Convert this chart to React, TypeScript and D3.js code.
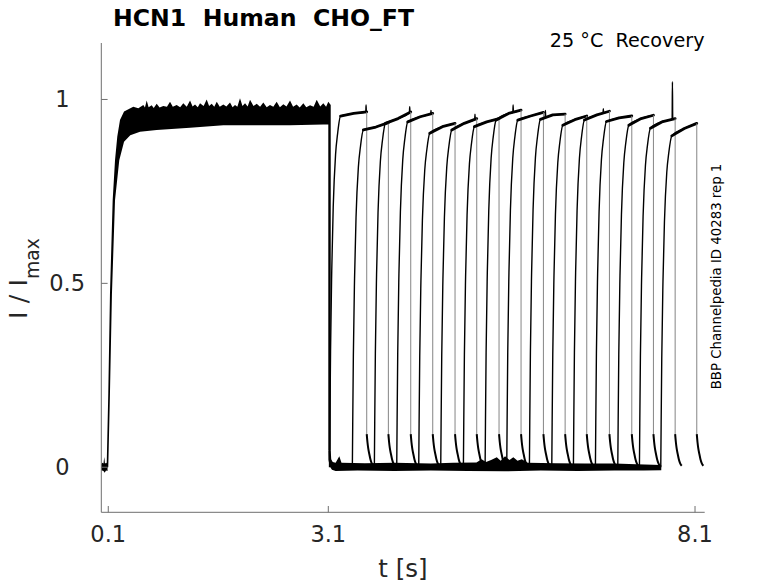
import React from 'react';
import * as d3 from 'd3';

type P = [number, number];

// ---- axis ticks ----
const xTicks = [0.1, 3.1, 8.1];
const xTickLabels = ['0.1', '3.1', '8.1'];
const yTicks = [0, 0.5, 1];
const yTickLabels = ['0', '0.5', '1'];

// ---- first (conditioning) pulse: envelope of all 16 overlapping sweeps ----
const preUpper: P[] = [[0.005, 0.008], [0.02, 0.012], [0.035, 0.01], [0.045, 0.028], [0.055, 0.01], [0.075, 0.012], [0.09, 0.008]];
const preLower: P[] = [[0.005, -0.008], [0.035, -0.01], [0.05, -0.015], [0.07, -0.009], [0.09, -0.01]];
const riseLeft: P[] = [[0.078, 0.0], [0.1, 0.2], [0.123, 0.47], [0.16, 0.726], [0.192, 0.835], [0.223, 0.899], [0.26, 0.944], [0.315, 0.967]];
const riseRight: P[] = [[0.1, 0.0], [0.123, 0.2], [0.15, 0.47], [0.192, 0.726], [0.25, 0.835], [0.315, 0.885], [0.4, 0.903]];
const bandUpper: P[] = [
  [0.441, 0.98], [0.51, 0.976], [0.578, 0.985], [0.6, 0.978], [0.624, 0.997], [0.65, 0.979], [0.692, 0.984], [0.72, 0.977],
  [0.76, 0.988], [0.8, 0.978], [0.85, 0.982], [0.9, 0.98], [0.942, 0.994], [0.98, 0.98], [1.033, 0.985], [1.08, 0.979],
  [1.123, 0.99], [1.17, 0.98], [1.215, 0.997], [1.25, 0.981], [1.283, 0.986], [1.32, 0.979], [1.351, 0.99], [1.4, 0.982],
  [1.442, 1.0], [1.475, 0.982], [1.51, 0.988], [1.545, 0.98], [1.579, 0.994], [1.62, 0.98], [1.669, 0.986], [1.71, 0.981],
  [1.76, 0.992], [1.795, 0.979], [1.828, 0.985], [1.86, 0.98], [1.896, 1.003], [1.93, 0.982], [1.965, 0.99], [2.0, 0.981],
  [2.033, 0.999], [2.08, 0.982], [2.124, 0.988], [2.17, 0.98], [2.214, 0.992], [2.26, 0.979], [2.305, 0.985], [2.35, 0.98],
  [2.396, 0.994], [2.44, 0.979], [2.487, 0.987], [2.53, 0.981], [2.578, 0.997], [2.62, 0.98], [2.669, 0.986], [2.71, 0.978],
  [2.76, 0.99], [2.8, 0.979], [2.851, 0.984], [2.9, 0.98], [2.942, 0.999], [2.99, 0.981], [3.032, 0.99], [3.07, 0.98], [3.1, 0.994],
];
const bandLower: P[] = [[0.4, 0.903], [0.533, 0.912], [0.76, 0.917], [1.215, 0.923], [1.669, 0.93], [2.124, 0.93], [2.578, 0.93], [3.032, 0.932], [3.1, 0.932]];
const dropBand: P[] = [[3.133, 0.985], [3.133, 0.045], [3.1, 0.045]];

// ---- baseline between pulses (deactivated, overlapping sweeps) ----
const baseOuter: P[] = [[3.1, 0.045], [3.102, 0.02], [3.12, 0.002], [3.15, -0.007], [3.2, -0.01]];
const baseLower: P[] = [[3.5, -0.009], [4.0, -0.01], [4.5, -0.009], [5.0, -0.01], [5.5, -0.011], [6.0, -0.009], [6.5, -0.01], [7.0, -0.009], [7.4, -0.009], [7.64, -0.008]];
const baseUpper: P[] = [
  [3.2, 0.012], [3.25, 0.03], [3.28, 0.012], [3.6, 0.011], [4.0, 0.012], [4.5, 0.01], [4.8, 0.012], [5.12, 0.013],
  [5.19, 0.022], [5.25, 0.014], [5.32, 0.02], [5.397, 0.027], [5.45, 0.018], [5.51, 0.03], [5.57, 0.02], [5.623, 0.027],
  [5.68, 0.018], [5.738, 0.022], [5.82, 0.012], [6.2, 0.011], [6.6, 0.01], [7.0, 0.01], [7.3, 0.008], [7.64, 0.006],
];
const baseInner: P[] = [[3.133, 0.045], [3.14, 0.022], [3.16, 0.014]];

// ---- recovery (test) pulses, one per sweep ----
const riseT = [3.117, 3.428, 3.728, 4.033, 4.333, 4.633, 4.942, 5.238, 5.533, 5.842, 6.147, 6.442, 6.742, 7.047, 7.342, 7.633];
const endT = [3.624, 3.919, 4.224, 4.524, 4.828, 5.124, 5.428, 5.728, 6.033, 6.329, 6.624, 6.933, 7.238, 7.533, 7.829, 8.124];
const plStart = [0.955, 0.917, 0.935, 0.939, 0.908, 0.917, 0.926, 0.944, 0.944, 0.946, 0.93, 0.944, 0.94, 0.93, 0.922, 0.901];
const plMid = [0.962, 0.925, 0.948, 0.953, 0.926, 0.935, 0.939, 0.962, 0.955, 0.958, 0.945, 0.958, 0.95, 0.948, 0.94, 0.921];
const plEnd = [0.966, 0.937, 0.966, 0.962, 0.935, 0.948, 0.948, 0.971, 0.965, 0.96, 0.955, 0.968, 0.955, 0.957, 0.948, 0.935];
// [sweep index, t, value] of visible peaks
const peaks: [number, number, number][] = [[0, 3.615, 0.985], [2, 4.21, 0.98], [3, 4.5, 0.97], [5, 5.1, 0.96], [7, 5.62, 0.985], [9, 6.06, 0.97], [11, 6.85, 0.975], [14, 7.792, 1.048]];
// activation shape: time after step (s), fraction of plateau
const riseDt = [0, 0.005, 0.0136, 0.03, 0.05, 0.082, 0.11, 0.15];
const riseFrac = [0, 0.13, 0.33, 0.56, 0.74, 0.89, 0.95, 1.0];
// deactivation tail after each test pulse: time after step (s), value
const tailDt = [0, 0.01, 0.02, 0.035, 0.05, 0.07, 0.09];
const tailV = [0.09, 0.068, 0.052, 0.036, 0.022, 0.01, 0.004];

const FONT = '"DejaVu Sans", Verdana, sans-serif';

export default function App() {
  const x = d3.scaleLinear().domain([0.005, 8.232]).range([101.3, 704.7]);
  const y = d3.scaleLinear().domain([-0.1225, 1.1535]).range([512.3, 43]);
  const poly = d3.line<P>().x(d => x(d[0])).y(d => y(d[1]));
  const smooth = d3.line<P>().x(d => x(d[0])).y(d => y(d[1])).curve(d3.curveMonotoneX);

  const prePoly = [...preUpper, ...[...preLower].reverse()];
  const mainPoly = [...riseLeft, ...bandUpper, ...dropBand, ...[...bandLower].reverse(), ...[...riseRight].reverse()];
  const basePoly = [...baseOuter, ...baseLower, ...[...baseUpper].reverse(), ...[...baseInner].reverse()];

  const sweeps = riseT.map((t0, i) => {
    const t1 = endT[i];
    const tKnee = t0 + riseDt[riseDt.length - 1];
    const pts: P[] = riseDt.map((dt, j) => [t0 + dt, riseFrac[j] * plStart[i]] as P);
    const tMid = (tKnee + t1) / 2;
    const plat: P[] = [[tKnee, plStart[i]], [tMid, plMid[i]], [t1, plEnd[i]]];
    const base = d3.scaleLinear().domain(plat.map(p => p[0])).range(plat.map(p => p[1]));
    let full: P[] = [...pts.slice(0, -1), ...plat];
    peaks.filter(p => p[0] === i).forEach(([, tp, vp]) => {
      const a = tp - 0.004, b = Math.min(tp + 0.004, t1);
      full.push([a, base(a)], [tp, vp], [b, base(b)]);
    });
    full = full.sort((p, q) => p[0] - q[0]);
    const tail: P[] = tailDt.map((dt, j) => [t1 + dt, tailV[j]] as P);
    return { full, plat, tail, t1, vEnd: plEnd[i] };
  });

  const axisColor = '#6e6e6e';
  const textColor = '#262626';

  return (
    <svg width={778} height={583} style={{ position: 'absolute', left: 0, top: 0, background: '#fff' }} fontFamily={FONT}>
      <rect width={778} height={583} fill="#fff" />
      {/* conditioning pulse band */}
      <path d={poly(prePoly) + 'Z'} fill="#000" />
      <path d={poly(mainPoly) + 'Z'} fill="#000" />
      <path d={poly(basePoly) + 'Z'} fill="#000" />
      {/* test pulses */}
      {sweeps.map((s, i) => (
        <g key={i}>
          <path d={smooth(s.full) || ''} fill="none" stroke="#000" strokeWidth={1.4} />
          <path d={poly(s.plat) || ''} fill="none" stroke="#000" strokeWidth={2.8} strokeLinecap="round" strokeLinejoin="round" />
          <line x1={x(s.t1)} x2={x(s.t1)} y1={y(s.vEnd)} y2={y(tailV[0])} stroke="#858585" strokeWidth={1} />
          <path d={smooth(s.tail) || ''} fill="none" stroke="#000" strokeWidth={2} />
        </g>
      ))}
      {/* axes */}
      <line x1={101.3} x2={101.3} y1={43} y2={512.3} stroke={axisColor} strokeWidth={1} />
      <line x1={101.3} x2={704.7} y1={512.3} y2={512.3} stroke={axisColor} strokeWidth={1} />
      {xTicks.map((t, i) => (
        <g key={'xt' + i}>
          <line x1={x(t)} x2={x(t)} y1={512.3} y2={506} stroke={axisColor} />
          <text x={x(t)} y={542.3} textAnchor="middle" fontSize={22.5} fill={textColor}>{xTickLabels[i]}</text>
        </g>
      ))}
      {yTicks.map((v, i) => (
        <g key={'yt' + i}>
          <line x1={101.3} x2={107.6} y1={y(v)} y2={y(v)} stroke={axisColor} />
          <text x={62.5 + (yTickLabels[i].length - 1) * 2.3} y={y(v) + 7.8} textAnchor="middle" fontSize={22.5} fill={textColor}>{yTickLabels[i]}</text>
        </g>
      ))}
      {/* labels */}
      <text x={403} y={576.5} textAnchor="middle" fontSize={24.5} fill={textColor}>t [s]</text>
      <g transform="translate(27,278.5) rotate(-90)">
        <text textAnchor="middle" fontSize={25.6} fill={textColor} style={{ whiteSpace: 'pre' }}>
          <tspan>I / I</tspan>
          <tspan fontSize={18.8} dy={12}>max</tspan>
        </text>
      </g>
      <text x={113} y={26} fontSize={23.6} fontWeight="bold" fill="#000" style={{ whiteSpace: 'pre' }}>HCN1  Human  CHO_FT</text>
      <text x={704.5} y={47.3} textAnchor="end" fontSize={19.2} fill="#000" style={{ whiteSpace: 'pre' }}>25 °C  Recovery</text>
      <g transform="translate(720.5,276.5) rotate(-90)">
        <text textAnchor="middle" fontSize={13.3} fill="#000">BBP Channelpedia ID 40283 rep 1</text>
      </g>
    </svg>
  );
}
